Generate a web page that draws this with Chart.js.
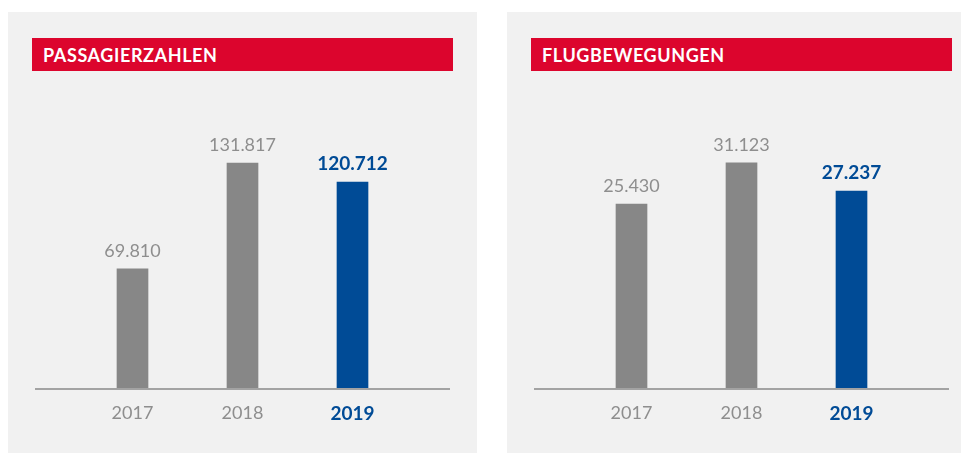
<!DOCTYPE html>
<html>
<head>
<meta charset="utf-8">
<script src="https://cdn.jsdelivr.net/npm/chart.js@4"></script>
<style>
  body { margin: 0; background: #fff; width: 961px; height: 453px; position: relative; overflow: hidden; font-family: Lato, sans-serif; }
  .panel { position: absolute; top: 12px; height: 441px; background: #f1f1f1; }
  .head { position: absolute; top: 26px; left: 24px; width: 421px; height: 33px; background: #dc052d;
          color: #fff; font: 700 18px Lato, sans-serif; letter-spacing: 0.6px; line-height: 33px; padding-top: 1px; box-sizing: border-box; padding-left: 11px; }
  canvas { position: absolute; top: 0; left: 0; }
</style>
</head>
<body>
<div class="panel" style="left:8px;width:469px">
  <div class="head">PASSAGIERZAHLEN</div>
  <canvas id="c1" width="469" height="441"></canvas>
</div>
<div class="panel" style="left:507px;width:454px">
  <div class="head">FLUGBEWEGUNGEN</div>
  <canvas id="c2" width="454" height="441"></canvas>
</div>
<script>
const years = ['2017', '2018', '2019'];
const passagiere = [69810, 131817, 120712];
const flugbewegungen = [25430, 31123, 27237];

const GRAY = '#878787';
const BLUE = '#004b96';
const TEXT_GRAY = '#8e8e8e';
const current = years.length - 1;

function fmt(v) {
    return String(v).replace(/\B(?=(\d{3})+(?!\d))/g, '.');
}

// baseline across the panel, wider than the chart area
const baseline = {
    id: 'baseline',
    afterDatasetsDraw(chart) {
        const ctx = chart.ctx;
        const y = chart.scales.y.getPixelForValue(0) + 1;
        ctx.save();
        ctx.strokeStyle = '#a3a3a3';
        ctx.lineWidth = 2;
        ctx.beginPath();
        ctx.moveTo(27, y);
        ctx.lineTo(442, y);
        ctx.stroke();
        ctx.restore();
    },
};

// value labels above bars
const valueLabels = {
    id: 'valueLabels',
    afterDatasetsDraw(chart) {
        const ctx = chart.ctx;
        const meta = chart.getDatasetMeta(0);
        const data = chart.data.datasets[0].data;
        ctx.save();
        ctx.textAlign = 'center';
        ctx.textBaseline = 'alphabetic';
        meta.data.forEach((bar, i) => {
            const hi = i === current;
            ctx.font = hi ? '700 19px Lato' : '400 18px Lato';
            ctx.fillStyle = hi ? BLUE : TEXT_GRAY;
            ctx.fillText(fmt(data[i]), bar.x, bar.y - 12);
        });
        ctx.restore();
    },
};

function renderBarChart(canvas, values, yMax, padRight) {
    return new Chart(canvas, {
        type: 'bar',
        data: {
            labels: years,
            datasets: [{
                data: values,
                backgroundColor: values.map((v, i) => (i === current ? BLUE : GRAY)),
                barThickness: 31,
                borderWidth: 0,
            }],
        },
        options: {
            responsive: false,
            animation: false,
            layout: { padding: { top: 120, left: 69.5, right: padRight, bottom: 0 } },
            plugins: { legend: { display: false }, tooltip: { enabled: false } },
            scales: {
                x: {
                    grid: { display: false, drawTicks: false },
                    border: { display: false },
                    ticks: {
                        padding: 14,
                        color: (c) => (c.index === current ? BLUE : TEXT_GRAY),
                        font: (c) => (c.index === current ? { family: 'Lato', size: 19, weight: '700' } : { family: 'Lato', size: 18, weight: '400' }),
                    },
                    afterFit(scale) { scale.height = 65; },
                },
                y: { display: false, min: 0, max: yMax },
            },
        },
        plugins: [baseline, valueLabels],
    });
}

renderBarChart(document.getElementById('c1'), passagiere, 150000, 69.5);
renderBarChart(document.getElementById('c2'), flugbewegungen, 35400, 54.5);
</script>
</body>
</html>
